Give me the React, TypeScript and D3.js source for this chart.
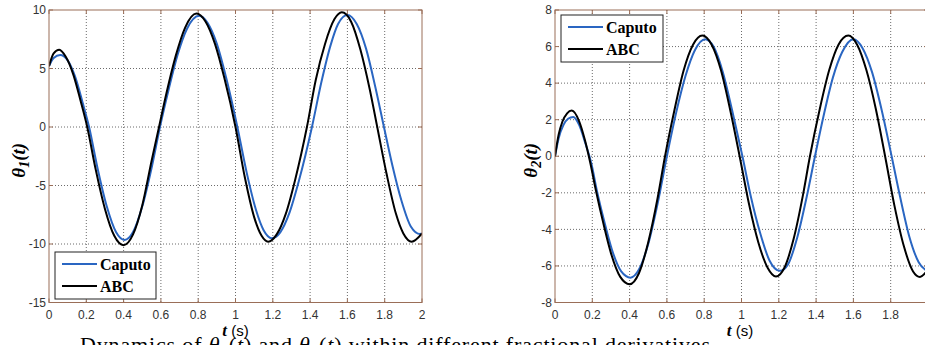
import React from 'react';
import * as d3 from 'd3';

// ---- tick labels ----
const X_TICKS = [0, 0.2, 0.4, 0.6, 0.8, 1, 1.2, 1.4, 1.6, 1.8, 2];
const Y1_TICKS = [-15, -10, -5, 0, 5, 10];
const Y2_TICKS = [-8, -6, -4, -2, 0, 2, 4, 6, 8];
const SERIES_NAMES = ['Caputo', 'ABC'];

// ---- theta1, Caputo ----
const T1_CAPUTO = [0, 0.025, 0.06, 0.1, 0.14, 0.18, 0.215, 0.26, 0.31, 0.36, 0.405, 0.45, 0.5, 0.55, 0.595, 0.64, 0.69, 0.74, 0.805, 0.85, 0.9, 0.95, 1.01, 1.06, 1.11, 1.15, 1.195, 1.24, 1.29, 1.34, 1.41, 1.46, 1.51, 1.55, 1.6, 1.65, 1.7, 1.75, 1.796, 1.84, 1.89, 1.94, 1.99, 2.0];
const V1_CAPUTO = [5.2, 5.9, 6.15, 5.7, 4.3, 2.1, 0, -3.5, -6.8, -9.0, -9.65, -9.0, -6.8, -3.5, 0, 3.1, 6.2, 8.4, 9.5, 8.9, 7.1, 4.2, 0, -3.9, -7.1, -8.8, -9.5, -9.0, -7.3, -4.6, 0, 3.8, 7.0, 8.8, 9.57, 8.8, 6.7, 3.4, 0, -3.2, -6.3, -8.5, -9.15, -9.1];

// ---- theta1, ABC ----
const T1_ABC = [0, 0.025, 0.055, 0.09, 0.13, 0.17, 0.205, 0.25, 0.3, 0.35, 0.4, 0.45, 0.5, 0.55, 0.59, 0.63, 0.68, 0.73, 0.79, 0.84, 0.89, 0.94, 1.0, 1.05, 1.1, 1.14, 1.175, 1.22, 1.27, 1.32, 1.383, 1.43, 1.48, 1.53, 1.57, 1.62, 1.67, 1.72, 1.76, 1.81, 1.86, 1.9, 1.945, 2.0];
const V1_ABC = [5.2, 6.3, 6.6, 6.0, 4.5, 2.2, 0, -3.6, -7.0, -9.3, -10.1, -9.2, -6.7, -2.9, 0, 2.9, 6.1, 8.5, 9.7, 9.0, 7.1, 4.2, 0, -4.3, -7.7, -9.3, -9.8, -9.2, -7.4, -4.5, 0, 4.0, 7.1, 9.2, 9.8, 9.0, 6.6, 3.2, 0, -4.0, -7.4, -9.1, -9.8, -9.1];

// ---- theta2, Caputo ----
const T2_CAPUTO = [0, 0.02, 0.045, 0.07, 0.098, 0.13, 0.16, 0.195, 0.225, 0.265, 0.305, 0.355, 0.405, 0.45, 0.5, 0.55, 0.6, 0.65, 0.7, 0.75, 0.805, 0.85, 0.9, 0.95, 1.005, 1.05, 1.1, 1.15, 1.206, 1.25, 1.3, 1.35, 1.394, 1.44, 1.49, 1.54, 1.6, 1.65, 1.7, 1.75, 1.805, 1.85, 1.9, 1.95, 2.0];
const V2_CAPUTO = [0, 1.0, 1.7, 2.05, 2.15, 1.7, 0.8, -0.4, -1.9, -3.6, -5.1, -6.3, -6.64, -6.2, -4.8, -2.6, 0, 2.4, 4.4, 5.8, 6.4, 6.0, 4.6, 2.5, 0, -2.2, -4.2, -5.7, -6.27, -5.9, -4.4, -2.2, 0, 2.2, 4.3, 5.7, 6.4, 5.9, 4.6, 2.6, 0, -2.2, -4.4, -5.8, -6.3];

// ---- theta2, ABC ----
const T2_ABC = [0, 0.02, 0.04, 0.065, 0.09, 0.13, 0.16, 0.19, 0.22, 0.26, 0.3, 0.35, 0.4, 0.45, 0.5, 0.55, 0.59, 0.64, 0.69, 0.74, 0.79, 0.84, 0.89, 0.94, 0.99, 1.04, 1.09, 1.14, 1.185, 1.23, 1.28, 1.33, 1.367, 1.42, 1.47, 1.52, 1.573, 1.62, 1.67, 1.72, 1.77, 1.82, 1.87, 1.92, 1.957, 2.0];
const V2_ABC = [0, 1.2, 1.9, 2.35, 2.5, 1.9, 0.9, -0.4, -1.9, -3.7, -5.3, -6.6, -7.0, -6.4, -4.7, -2.3, 0, 2.5, 4.7, 6.1, 6.6, 6.1, 4.7, 2.5, 0, -2.6, -4.7, -6.1, -6.58, -6.1, -4.5, -2.1, 0, 2.6, 4.7, 6.1, 6.6, 6.1, 4.7, 2.6, 0, -2.7, -4.9, -6.3, -6.6, -6.2];

const BLUE = '#2a66c2';
const BLACK = '#000000';
const AXIS = '#9a6e58';
const GRID = '#6b6b6b';
const TICKTXT = '#333333';
const SANS = 'Liberation Sans, Arial, sans-serif';
const SERIF = 'Liberation Serif, Times New Roman, serif';
const W = 925;
const H = 345;

type PanelProps = {
  id: string;
  x0: number; x1: number; y0: number; y1: number;
  yDomain: [number, number];
  yTicks: number[];
  series: { t: number[]; v: number[]; color: string }[];
  legend: { x: number; y: number; w: number; h: number };
  sub: string;
  ylabelX: number;
};

function Panel(p: PanelProps) {
  const x = d3.scaleLinear().domain([0, 2]).range([p.x0, p.x1]);
  const y = d3.scaleLinear().domain(p.yDomain).range([p.y1, p.y0]);
  const line = d3.line<[number, number]>()
    .x(d => x(d[0]))
    .y(d => y(d[1]))
    .curve(d3.curveMonotoneX);
  const tickLen = 4;
  const innerX = X_TICKS.filter(t => t > 0 && t < 2);
  const innerY = p.yTicks.filter(v => v > p.yDomain[0] && v < p.yDomain[1]);
  const cy = (p.y0 + p.y1) / 2;
  const cx = (p.x0 + Math.min(p.x1, W)) / 2;
  return (
    <g>
      <defs>
        <clipPath id={p.id}>
          <rect x={p.x0} y={p.y0} width={p.x1 - p.x0} height={p.y1 - p.y0} />
        </clipPath>
      </defs>
      <rect x={p.x0} y={p.y0} width={p.x1 - p.x0} height={p.y1 - p.y0} fill="#fff" />
      {innerX.map(t => (
        <line key={'gx' + t} x1={x(t)} x2={x(t)} y1={p.y0} y2={p.y1} stroke={GRID} strokeWidth={1} strokeDasharray="1,2" />
      ))}
      {innerY.map(v => (
        <line key={'gy' + v} x1={p.x0} x2={p.x1} y1={y(v)} y2={y(v)} stroke={GRID} strokeWidth={1} strokeDasharray="1,2" />
      ))}
      {X_TICKS.map(t => (
        <g key={'tx' + t}>
          <line x1={x(t)} x2={x(t)} y1={p.y1} y2={p.y1 - tickLen} stroke={AXIS} />
          <line x1={x(t)} x2={x(t)} y1={p.y0} y2={p.y0 + tickLen} stroke={AXIS} />
          {x(t) + 4 < W && (
            <text x={x(t)} y={p.y1 + 16} textAnchor="middle" fontFamily={SANS} fontSize={12} fill={TICKTXT}>{String(t)}</text>
          )}
        </g>
      ))}
      {p.yTicks.map(v => (
        <g key={'ty' + v}>
          <line x1={p.x0} x2={p.x0 + tickLen} y1={y(v)} y2={y(v)} stroke={AXIS} />
          <line x1={p.x1} x2={p.x1 - tickLen} y1={y(v)} y2={y(v)} stroke={AXIS} />
          <text x={p.x0 - 3} y={y(v)} dy="0.35em" textAnchor="end" fontFamily={SANS} fontSize={12} fill={TICKTXT}>{String(v)}</text>
        </g>
      ))}
      <g clipPath={`url(#${p.id})`}>
        {p.series.map((s, i) => (
          <path key={i} d={line(s.t.map((t, j) => [t, s.v[j]] as [number, number])) || ''} fill="none" stroke={s.color} strokeWidth={2} strokeLinejoin="round" />
        ))}
      </g>
      <rect x={p.x0} y={p.y0} width={p.x1 - p.x0} height={p.y1 - p.y0} fill="none" stroke={AXIS} strokeWidth={1} />
      <rect x={p.legend.x} y={p.legend.y} width={p.legend.w} height={p.legend.h} fill="#fff" stroke="#222" strokeWidth={1} />
      {SERIES_NAMES.map((name, i) => {
        const ly = p.legend.y + 12 + i * 22;
        return (
          <g key={name}>
            <line x1={p.legend.x + 7} x2={p.legend.x + 42} y1={ly} y2={ly} stroke={p.series[i].color} strokeWidth={2} />
            <text x={p.legend.x + 45} y={ly + 6} fontFamily={SERIF} fontWeight="bold" fontSize={16} fill="#000">{name}</text>
          </g>
        );
      })}
      <text transform={`translate(${p.ylabelX},${cy + 4}) rotate(-90)`} textAnchor="middle" fontFamily={SERIF} fontWeight="bold" fontStyle="italic" fontSize={19} fill="#000">
        θ<tspan fontSize={14} dy="4">{p.sub}</tspan><tspan dy="-4">(t)</tspan>
      </text>
      <text x={cx} y={p.y1 + 33} textAnchor="middle" fill="#000">
        <tspan fontFamily={SERIF} fontWeight="bold" fontStyle="italic" fontSize={17}>t</tspan>
        <tspan fontFamily={SANS} fontSize={15}> (s)</tspan>
      </text>
    </g>
  );
}

export default function App() {
  return (
    <svg width={W} height={H} style={{ position: 'absolute', left: 0, top: 0, background: '#fff' }}>
      <rect x={0} y={0} width={W} height={H} fill="#fff" />
      <Panel
        id="clipL" x0={49} x1={422} y0={10} y1={302.5}
        yDomain={[-15, 10]} yTicks={Y1_TICKS}
        series={[{ t: T1_CAPUTO, v: V1_CAPUTO, color: BLUE }, { t: T1_ABC, v: V1_ABC, color: BLACK }]}
        legend={{ x: 55, y: 252, w: 101, h: 47 }}
        sub="1" ylabelX={25}
      />
      <Panel
        id="clipR" x0={555} x1={928} y0={10} y1={302.5}
        yDomain={[-8, 8]} yTicks={Y2_TICKS}
        series={[{ t: T2_CAPUTO, v: V2_CAPUTO, color: BLUE }, { t: T2_ABC, v: V2_ABC, color: BLACK }]}
        legend={{ x: 561, y: 15, w: 102, h: 47 }}
        sub="2" ylabelX={537}
      />
      <text x={80} y={352} fontFamily={SERIF} fontSize={22} fill="#000" textLength={630} lengthAdjust="spacing">
        Dynamics of <tspan fontStyle="italic">θ</tspan><tspan fontSize={15} dy="4">1</tspan><tspan dy="-4">(</tspan><tspan fontStyle="italic">t</tspan>) and <tspan fontStyle="italic">θ</tspan><tspan fontSize={15} dy="4">2</tspan><tspan dy="-4">(</tspan><tspan fontStyle="italic">t</tspan>) within different fractional derivatives
      </text>
    </svg>
  );
}
